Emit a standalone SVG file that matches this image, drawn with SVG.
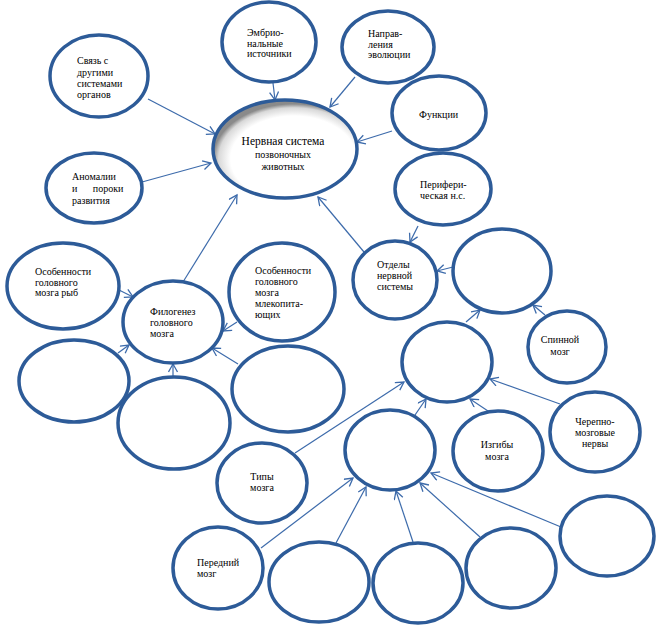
<svg xmlns="http://www.w3.org/2000/svg" width="670" height="629" viewBox="0 0 670 629">
<style>
.n{fill:#fff;stroke:#2D5B98;stroke-width:3.5}
.c{fill:none;stroke:#3D6BAB;stroke-width:1.2;marker-end:url(#a)}
text{font-size:10px;fill:#000}
.m{text-anchor:middle}
.big{font-size:11.5px}
</style>
<defs>
<marker id="a" markerUnits="userSpaceOnUse" markerWidth="12" markerHeight="12" refX="9" refY="5" orient="auto">
<path d="M1,0.5 L9,5 L1,9.5" fill="none" stroke="#3D6BAB" stroke-width="1.3"/>
</marker>
<radialGradient id="g" cx="0.56" cy="0.6" r="0.56">
<stop offset="0.78" stop-color="#fff"/>
<stop offset="0.93" stop-color="#d9d9d9"/>
<stop offset="1" stop-color="#8a8a8a"/>
</radialGradient>
</defs>
<rect width="670" height="629" fill="#fff"/>
<g id="connectors">
<line class="c" x1="148" y1="99" x2="215" y2="134"/>
<line class="c" x1="273" y1="83" x2="275" y2="100"/>
<line class="c" x1="355" y1="77" x2="330" y2="107"/>
<line class="c" x1="392" y1="131" x2="357" y2="142"/>
<line class="c" x1="142" y1="182" x2="211" y2="163"/>
<line class="c" x1="183" y1="282" x2="237" y2="195"/>
<line class="c" x1="364" y1="252" x2="318" y2="197"/>
<line class="c" x1="418" y1="226" x2="410" y2="242"/>
<line class="c" x1="453" y1="267" x2="437" y2="271"/>
<line class="c" x1="545" y1="315" x2="533" y2="305"/>
<line class="c" x1="466" y1="322" x2="480" y2="310"/>
<line class="c" x1="560" y1="404" x2="490" y2="379"/>
<line class="c" x1="488" y1="411" x2="470" y2="399"/>
<line class="c" x1="415" y1="415" x2="426" y2="399"/>
<line class="c" x1="295" y1="453" x2="404" y2="382"/>
<line class="c" x1="261" y1="548" x2="353" y2="478"/>
<line class="c" x1="336" y1="543" x2="366" y2="487"/>
<line class="c" x1="413" y1="542" x2="396" y2="491"/>
<line class="c" x1="480" y1="537" x2="420" y2="483"/>
<line class="c" x1="561" y1="527" x2="431" y2="473"/>
<line class="c" x1="119" y1="290" x2="133" y2="297"/>
<line class="c" x1="118" y1="353" x2="129" y2="345"/>
<line class="c" x1="173" y1="379" x2="173" y2="364"/>
<line class="c" x1="238" y1="364" x2="212" y2="348"/>
<line class="c" x1="237" y1="322" x2="223" y2="331"/>
</g>
<g font-family="'Liberation Serif', 'Times New Roman', 'DejaVu Serif', serif">
<g id="n-center">
<ellipse cx="285" cy="149" rx="72" ry="49" fill="url(#g)" stroke="#2D5B98" stroke-width="3.5"/>
<text class="m big" x="283" y="145">Нервная система</text>
<text class="m" x="283" y="158">позвоночных</text>
<text class="m" x="283" y="170">животных</text>
</g>
<g id="n-svyaz">
<ellipse class="n" cx="99" cy="76" rx="49" ry="41"/>
<text x="77" y="64">Связь с</text>
<text x="77" y="76">другими</text>
<text x="77" y="87">системами</text>
<text x="77" y="98">органов</text>
</g>
<g id="n-embrio">
<ellipse class="n" cx="269" cy="42" rx="47" ry="40"/>
<text x="247" y="36">Эмбрио-</text>
<text x="247" y="47">нальные</text>
<text x="247" y="57">источники</text>
</g>
<g id="n-napr">
<ellipse class="n" cx="388" cy="47" rx="46" ry="36"/>
<text x="368" y="37">Направ-</text>
<text x="368" y="48">ления</text>
<text x="368" y="58">эволюции</text>
</g>
<g id="n-funk">
<ellipse class="n" cx="439" cy="113" rx="47" ry="37"/>
<text x="419" y="118">Функции</text>
</g>
<g id="n-perif">
<ellipse class="n" cx="443" cy="189" rx="48" ry="36"/>
<text x="420" y="188">Перифери-</text>
<text x="420" y="199">ческая н.с.</text>
</g>
<g id="n-anom">
<ellipse class="n" cx="94" cy="188" rx="48" ry="35"/>
<text x="72" y="180">Аномалии</text>
<text x="72" y="192" word-spacing="13">и пороки</text>
<text x="72" y="204">развития</text>
</g>
<g id="n-ryby">
<ellipse class="n" cx="63" cy="286" rx="56" ry="43"/>
<text x="35" y="275">Особенности</text>
<text x="35" y="286">головного</text>
<text x="35" y="296">мозга рыб</text>
</g>
<g id="n-filo">
<ellipse class="n" cx="173" cy="322" rx="50" ry="41"/>
<text x="150" y="315">Филогенез</text>
<text x="150" y="326">головного</text>
<text x="150" y="337">мозга</text>
</g>
<g id="n-mlek">
<ellipse class="n" cx="282" cy="292" rx="53" ry="49"/>
<text x="255" y="274">Особенности</text>
<text x="255" y="285">головного</text>
<text x="255" y="296">мозга</text>
<text x="255" y="307">млекопита-</text>
<text x="255" y="318">ющих</text>
</g>
<g id="n-e11"><ellipse class="n" cx="74" cy="381" rx="55" ry="41"/></g>
<g id="n-e12"><ellipse class="n" cx="174" cy="423" rx="56" ry="46"/></g>
<g id="n-e13"><ellipse class="n" cx="288" cy="389" rx="56" ry="43"/></g>
<g id="n-otdely">
<ellipse class="n" cx="395" cy="280" rx="42" ry="39"/>
<text x="377" y="268">Отделы</text>
<text x="377" y="279">нервной</text>
<text x="377" y="290">системы</text>
</g>
<g id="n-e15"><ellipse class="n" cx="502" cy="271" rx="49" ry="42"/></g>
<g id="n-spin">
<ellipse class="n" cx="567" cy="347" rx="39" ry="36"/>
<text class="m" x="560" y="343">Спинной</text>
<text class="m" x="560" y="355">мозг</text>
</g>
<g id="n-e17"><ellipse class="n" cx="447" cy="362" rx="45" ry="40"/></g>
<g id="n-cherep">
<ellipse class="n" cx="595" cy="432" rx="45" ry="40"/>
<text class="m" x="595" y="425">Черепно-</text>
<text class="m" x="595" y="436">мозговые</text>
<text class="m" x="595" y="447">нервы</text>
</g>
<g id="n-izgiby">
<ellipse class="n" cx="498" cy="451" rx="45" ry="40"/>
<text class="m" x="497" y="448">Изгибы</text>
<text class="m" x="497" y="460">мозга</text>
</g>
<g id="n-e20"><ellipse class="n" cx="390" cy="450" rx="45" ry="40"/></g>
<g id="n-tipy">
<ellipse class="n" cx="262" cy="483" rx="45" ry="40"/>
<text class="m" x="262" y="480">Типы</text>
<text class="m" x="262" y="491">мозга</text>
</g>
<g id="n-pered">
<ellipse class="n" cx="218" cy="568" rx="45" ry="41"/>
<text x="197" y="566">Передний</text>
<text x="197" y="577">мозг</text>
</g>
<g id="n-e23"><ellipse class="n" cx="319" cy="582" rx="50" ry="40"/></g>
<g id="n-e24"><ellipse class="n" cx="418" cy="583" rx="45" ry="40"/></g>
<g id="n-e25"><ellipse class="n" cx="511" cy="568" rx="45" ry="40"/></g>
<g id="n-e26"><ellipse class="n" cx="607" cy="536" rx="47" ry="40"/></g>
</g>
</svg>
